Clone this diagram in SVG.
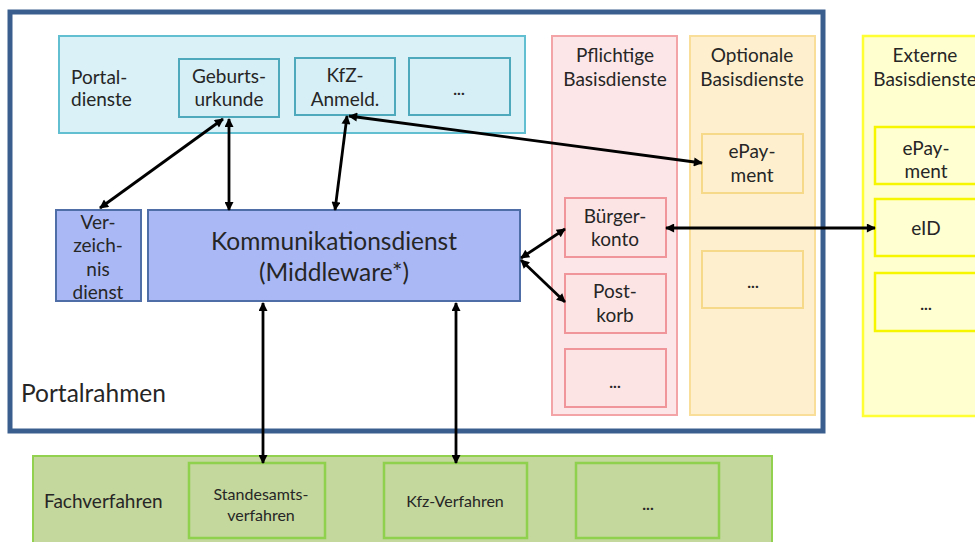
<svg xmlns="http://www.w3.org/2000/svg" width="975" height="542" viewBox="0 0 975 542">
<defs>
<style>
text{font-family:Lato,"Open Sans","Liberation Sans",sans-serif;fill:#262626}
.c{text-anchor:middle}
.t20{font-size:19px}
.t17{font-size:16px}
.t26{font-size:24.5px}
.dots{font-size:16px;text-anchor:middle;font-weight:bold}
.frame{fill:#fff;stroke:#3A5F8E;stroke-width:5}
.cyan{fill:#D9F1F7;stroke:#62BFD1;stroke-width:2}
.cyanIn{fill:#D6EFF6;stroke:#4FA9BC;stroke-width:2}
.blue{fill:#AAB9F6;stroke:#4F6EA8;stroke-width:2}
.pink{fill:#FDE6E7;stroke:#F3A4A7;stroke-width:2}
.pinkIn{fill:#FCE4E5;stroke:#F0959A;stroke-width:2}
.orange{fill:#FEF0CE;stroke:#F8DE98;stroke-width:2}
.orangeIn{fill:#FEF0CE;stroke:#F7D98A;stroke-width:2}
.yellow{fill:#FFFFCF;stroke:#FFFF33;stroke-width:2.5}
.yellowIn{fill:#FFFFD2;stroke:#F6F600;stroke-width:2.5}
.green{fill:#C4D79C;stroke:#92D050;stroke-width:2}
.greenIn{fill:#C4D79C;stroke:#8FD04C;stroke-width:2.5}
.arr{stroke:#000;stroke-width:2.8;fill:none;marker-start:url(#ah);marker-end:url(#ah)}
</style>
<marker id="ah" viewBox="0 0 10 10" refX="9" refY="5" markerWidth="11" markerHeight="9" markerUnits="userSpaceOnUse" orient="auto-start-reverse">
<path d="M0,0 L10,5 L0,10 z" fill="#000"/>
</marker>
</defs>

<g id="portalrahmen">
<rect class="frame" x="10" y="12" width="813" height="419"/>
<text x="21" y="402" class="t26">Portalrahmen</text>
</g>

<g id="portaldienste">
<rect class="cyan" x="59" y="36" width="466" height="97"/>
<text x="71" y="84" class="t20">Portal-</text>
<text x="71" y="106" class="t20">dienste</text>
</g>
<g id="geburtsurkunde">
<rect class="cyanIn" x="179" y="59" width="100" height="58"/>
<text x="229" y="83" class="t20 c">Geburts-</text>
<text x="229" y="106" class="t20 c">urkunde</text>
</g>
<g id="kfz-anmeld">
<rect class="cyanIn" x="295" y="58" width="100" height="57"/>
<text x="345" y="82" class="t20 c">KfZ-</text>
<text x="345" y="106" class="t20 c">Anmeld.</text>
</g>
<g id="portal-more">
<rect class="cyanIn" x="409" y="58" width="101" height="57"/>
<text x="459" y="95" class="dots">...</text>
</g>

<g id="verzeichnisdienst">
<rect class="blue" x="56" y="210" width="85" height="91"/>
<text x="98" y="229" class="t20 c">Ver-</text>
<text x="98" y="252" class="t20 c">zeich-</text>
<text x="98" y="276" class="t20 c">nis</text>
<text x="98" y="299" class="t20 c">dienst</text>
</g>
<g id="kommunikationsdienst">
<rect class="blue" x="148" y="210" width="372" height="91"/>
<text x="334" y="250" class="t26 c">Kommunikationsdienst</text>
<text x="334" y="281" class="t26 c">(Middleware*)</text>
</g>

<g id="pflichtige">
<rect class="pink" x="552" y="36" width="125" height="379"/>
<text x="615" y="62" class="t20 c">Pflichtige</text>
<text x="615" y="86" class="t20 c">Basisdienste</text>
</g>
<g id="buergerkonto">
<rect class="pinkIn" x="565" y="198" width="101" height="59"/>
<text x="615" y="223" class="t20 c">Bürger-</text>
<text x="615" y="246" class="t20 c">konto</text>
</g>
<g id="postkorb">
<rect class="pinkIn" x="565" y="274" width="101" height="59"/>
<text x="615" y="298" class="t20 c">Post-</text>
<text x="615" y="322" class="t20 c">korb</text>
</g>
<g id="pflichtige-more">
<rect class="pinkIn" x="565" y="349" width="101" height="58"/>
<text x="615" y="388" class="dots">...</text>
</g>

<g id="optionale">
<rect class="orange" x="690" y="36" width="125" height="379"/>
<text x="752" y="62" class="t20 c">Optionale</text>
<text x="752" y="86" class="t20 c">Basisdienste</text>
</g>
<g id="epayment-opt">
<rect class="orangeIn" x="702" y="134" width="101" height="59"/>
<text x="752" y="158" class="t20 c">ePay-</text>
<text x="752" y="182" class="t20 c">ment</text>
</g>
<g id="optionale-more">
<rect class="orangeIn" x="702" y="251" width="101" height="57"/>
<text x="753" y="288" class="dots">...</text>
</g>

<g id="externe">
<rect class="yellow" x="863" y="36" width="120" height="380"/>
<text x="925" y="62" class="t20 c">Externe</text>
<text x="925" y="86" class="t20 c">Basisdienste</text>
</g>
<g id="epayment-ext">
<rect class="yellowIn" x="875" y="127" width="108" height="57"/>
<text x="926" y="155" class="t20 c">ePay-</text>
<text x="926" y="178" class="t20 c">ment</text>
</g>
<g id="eid">
<rect class="yellowIn" x="875" y="199" width="108" height="57"/>
<text x="926" y="235" class="t20 c">eID</text>
</g>
<g id="externe-more">
<rect class="yellowIn" x="875" y="273" width="108" height="58"/>
<text x="926" y="310" class="dots">...</text>
</g>

<g id="fachverfahren">
<rect class="green" x="33" y="456" width="739" height="100"/>
<text x="44" y="508" class="t20">Fachverfahren</text>
</g>
<g id="standesamtsverfahren">
<rect class="greenIn" x="189" y="463" width="136" height="75"/>
<text x="261" y="500" class="t17 c">Standesamts-</text>
<text x="261" y="521" class="t17 c">verfahren</text>
</g>
<g id="kfz-verfahren">
<rect class="greenIn" x="384" y="463" width="143" height="75"/>
<text x="455" y="507" class="t17 c">Kfz-Verfahren</text>
</g>
<g id="fach-more">
<rect class="greenIn" x="576" y="463" width="143" height="75"/>
<text x="648" y="510" class="dots">...</text>
</g>

<g id="connectors">
<line class="arr" x1="223" y1="119" x2="100" y2="208"/>
<line class="arr" x1="229" y1="119" x2="229" y2="210"/>
<line class="arr" x1="347" y1="116" x2="335" y2="210"/>
<line class="arr" x1="349" y1="116" x2="702" y2="163"/>
<line class="arr" x1="521" y1="258" x2="565" y2="229"/>
<line class="arr" x1="521" y1="260" x2="565" y2="302"/>
<line class="arr" x1="666" y1="228" x2="875" y2="228"/>
<line class="arr" x1="263" y1="303" x2="263" y2="463"/>
<line class="arr" x1="456" y1="303" x2="456" y2="463"/>
</g>
</svg>
